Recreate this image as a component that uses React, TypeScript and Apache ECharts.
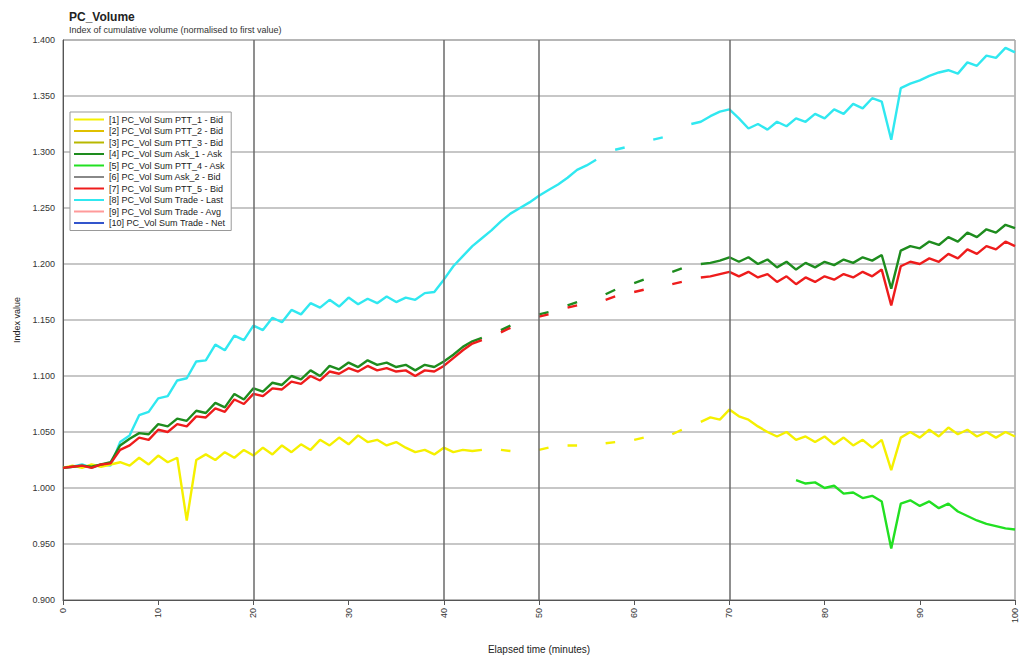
import React, { useEffect, useRef } from "react";
import * as echarts from "echarts";

const titleText = "PC_Volume";
const subtitleText = "Index of cumulative volume (normalised to first value)";
const xAxisName = "Elapsed time (minutes)";
const yAxisName = "Index value";
const majorX = [20, 40, 50, 70];
// sample positions with no recorded value (sparse middle section)
const gapX = [45, 48, 49, 52, 55, 56, 59, 62, 63, 66];
const cyanGapX = [57, 60, 61, 64, 65];

const xs = Array.from({ length: 101 }, (_, i) => i);

const cyan = [1.018,1.019,1.021,1.018,1.021,1.020,1.041,1.047,1.065,1.068,1.080,1.082,1.096,1.098,1.113,1.114,1.128,1.123,1.136,1.132,1.145,1.141,1.152,1.148,1.159,1.155,1.165,1.161,1.168,1.162,1.170,1.164,1.169,1.165,1.171,1.166,1.170,1.168,1.174,1.175,1.186,1.198,1.207,1.216,1.223,1.230,1.238,1.245,1.250,1.255,1.261,1.266,1.271,1.277,1.284,1.288,1.293,1.297,1.302,1.304,1.305,1.308,1.311,1.313,1.317,1.321,1.325,1.327,1.332,1.336,1.338,1.330,1.321,1.325,1.320,1.327,1.323,1.330,1.327,1.334,1.330,1.338,1.334,1.343,1.339,1.348,1.345,1.311,1.357,1.361,1.364,1.368,1.371,1.373,1.370,1.380,1.377,1.386,1.384,1.393,1.389];
const red = [1.018,1.019,1.020,1.018,1.021,1.022,1.034,1.038,1.045,1.043,1.052,1.050,1.057,1.055,1.064,1.063,1.071,1.068,1.079,1.075,1.084,1.082,1.089,1.088,1.095,1.093,1.100,1.096,1.104,1.102,1.107,1.104,1.109,1.105,1.107,1.104,1.105,1.100,1.105,1.104,1.109,1.116,1.123,1.129,1.132,1.136,1.139,1.143,1.146,1.150,1.153,1.155,1.157,1.161,1.163,1.164,1.166,1.168,1.171,1.173,1.175,1.177,1.179,1.180,1.182,1.184,1.186,1.188,1.189,1.191,1.193,1.189,1.193,1.188,1.191,1.184,1.189,1.182,1.188,1.184,1.189,1.186,1.191,1.188,1.193,1.189,1.195,1.163,1.198,1.202,1.200,1.205,1.202,1.209,1.205,1.213,1.209,1.216,1.213,1.220,1.216];
const darkGreen = [1.018,1.019,1.020,1.019,1.021,1.023,1.038,1.044,1.049,1.048,1.057,1.055,1.062,1.060,1.069,1.067,1.076,1.072,1.084,1.079,1.089,1.086,1.094,1.092,1.100,1.097,1.105,1.100,1.109,1.106,1.112,1.108,1.114,1.110,1.112,1.108,1.110,1.105,1.110,1.108,1.113,1.119,1.126,1.131,1.134,1.138,1.141,1.145,1.148,1.152,1.155,1.157,1.159,1.163,1.166,1.168,1.170,1.173,1.177,1.180,1.183,1.186,1.189,1.191,1.193,1.196,1.198,1.200,1.201,1.203,1.206,1.202,1.206,1.200,1.204,1.197,1.202,1.195,1.201,1.197,1.202,1.199,1.204,1.201,1.206,1.203,1.208,1.178,1.212,1.216,1.214,1.220,1.217,1.224,1.220,1.228,1.224,1.231,1.228,1.235,1.232];
const yellow = [1.018,1.020,1.018,1.021,1.019,1.021,1.023,1.020,1.027,1.021,1.029,1.023,1.027,0.971,1.025,1.030,1.025,1.032,1.027,1.034,1.029,1.036,1.030,1.038,1.032,1.039,1.034,1.043,1.038,1.045,1.039,1.047,1.041,1.043,1.038,1.041,1.036,1.032,1.034,1.030,1.036,1.032,1.034,1.033,1.034,1.032,1.034,1.033,1.034,1.034,1.034,1.036,1.036,1.038,1.038,1.038,1.039,1.040,1.041,1.042,1.043,1.045,1.045,1.046,1.048,1.052,1.055,1.059,1.063,1.061,1.070,1.064,1.061,1.055,1.050,1.046,1.050,1.043,1.046,1.041,1.046,1.039,1.045,1.038,1.043,1.036,1.043,1.016,1.045,1.050,1.045,1.052,1.046,1.054,1.048,1.052,1.046,1.050,1.045,1.050,1.046];
const limeStart = 77;
const lime = [1.007,1.004,1.005,1.000,1.002,0.995,0.996,0.991,0.993,0.988,0.946,0.986,0.989,0.984,0.988,0.982,0.986,0.979,0.975,0.971,0.968,0.966,0.964,0.963];

const legendNames = [
  "[1] PC_Vol Sum PTT_1 - Bid",
  "[2] PC_Vol Sum PTT_2 - Bid",
  "[3] PC_Vol Sum PTT_3 - Bid",
  "[4] PC_Vol Sum Ask_1 - Ask",
  "[5] PC_Vol Sum PTT_4 - Ask",
  "[6] PC_Vol Sum Ask_2 - Bid",
  "[7] PC_Vol Sum PTT_5 - Bid",
  "[8] PC_Vol Sum Trade - Last",
  "[9] PC_Vol Sum Trade - Avg",
  "[10] PC_Vol Sum Trade - Net",
];
const legendColors = ["#f5f000", "#e0c000", "#b8b800", "#1e8c1e", "#22e022", "#888888", "#ee1c1c", "#30e8f0", "#ff9a9a", "#3355cc"];

function pair(vals: (number | null)[], start = 0, gaps: number[] = []) {
  return vals.map((v, i) => [xs[i + start], gaps.includes(xs[i + start]) ? null : v]);
}

export default function App() {
  const ref = useRef<HTMLDivElement>(null);
  useEffect(() => {
    if (!ref.current) return;
    const chart = echarts.init(ref.current, null, { renderer: "svg" });
    const dataMap: Record<number, any[]> = {
      0: pair(yellow, 0, gapX),
      3: pair(darkGreen, 0, gapX),
      4: pair(lime, limeStart),
      6: pair(red, 0, gapX),
      7: pair(cyan, 0, cyanGapX),
    };
    const order = [7, 0, 4, 8, 3, 6, 1, 2, 5, 9];
    const series: any[] = order.map((idx) => ({
      name: legendNames[idx],
      type: "line",
      data: dataMap[idx] || [],
      showSymbol: false,
      symbol: "none",
      connectNulls: false,
      lineStyle: { width: 2.4, color: legendColors[idx] },
      itemStyle: { color: legendColors[idx] },
    }));
    series.push({
      name: "__major",
      type: "line",
      data: [],
      silent: true,
      markLine: {
        symbol: "none",
        silent: true,
        label: { show: false },
        lineStyle: { color: "#6a6a6a", type: "solid", width: 1.5 },
        data: majorX.map((x) => ({ xAxis: x })),
      },
    });
    chart.setOption({
      animation: false,
      backgroundColor: "#ffffff",
      title: {
        text: titleText,
        subtext: subtitleText,
        left: 64,
        top: 6,
        itemGap: 2,
        textStyle: { fontSize: 12, fontWeight: "bold", color: "#222", fontFamily: "Liberation Sans" },
        subtextStyle: { fontSize: 9, color: "#333", fontFamily: "Liberation Sans" },
      },
      legend: {
        orient: "vertical",
        left: 70,
        top: 112,
        data: legendNames,
        itemWidth: 30,
        itemHeight: 2,
        itemGap: 2.5,
        icon: "rect",
        backgroundColor: "#ffffff",
        borderColor: "#999999",
        borderWidth: 1,
        padding: [3, 6, 3, 4],
        textStyle: { fontSize: 9, color: "#222", fontFamily: "Liberation Sans" },
      },
      grid: { left: 63, right: 10, top: 40, bottom: 59, show: true, borderColor: "#777", borderWidth: 1 },
      xAxis: {
        type: "value",
        min: 0,
        max: 100,
        interval: 10,
        name: xAxisName,
        nameLocation: "middle",
        nameGap: 44,
        nameTextStyle: { fontSize: 10, color: "#222", fontFamily: "Liberation Sans" },
        axisLine: { lineStyle: { color: "#555" } },
        axisTick: { lineStyle: { color: "#555" } },
        axisLabel: { fontSize: 9, color: "#333", rotate: 90, fontFamily: "Liberation Sans" },
        splitLine: { show: false },
      },
      yAxis: {
        type: "value",
        min: 0.9,
        max: 1.4,
        interval: 0.05,
        name: yAxisName,
        nameLocation: "middle",
        nameGap: 42,
        nameTextStyle: { fontSize: 9, color: "#222", fontFamily: "Liberation Sans" },
        axisLine: { show: true, lineStyle: { color: "#555" } },
        axisTick: { show: false },
        axisLabel: { fontSize: 9, color: "#333", formatter: (v: number) => v.toFixed(3), fontFamily: "Liberation Sans" },
        splitLine: { show: true, lineStyle: { color: "#b4b4b4", width: 1.5 } },
      },
      series,
    });
    return () => chart.dispose();
  }, []);
  return (
    <div style={{ position: "fixed", left: 0, top: 0, width: 1025, height: 659, background: "#fff" }}>
      <div style={{ position: "absolute", left: 0, top: 0, width: 8, height: 659, background: "linear-gradient(90deg,#bbb,#888,#ddd)" }} />
      <div ref={ref} style={{ position: "absolute", left: 0, top: 0, width: 1025, height: 659 }} />
    </div>
  );
}
